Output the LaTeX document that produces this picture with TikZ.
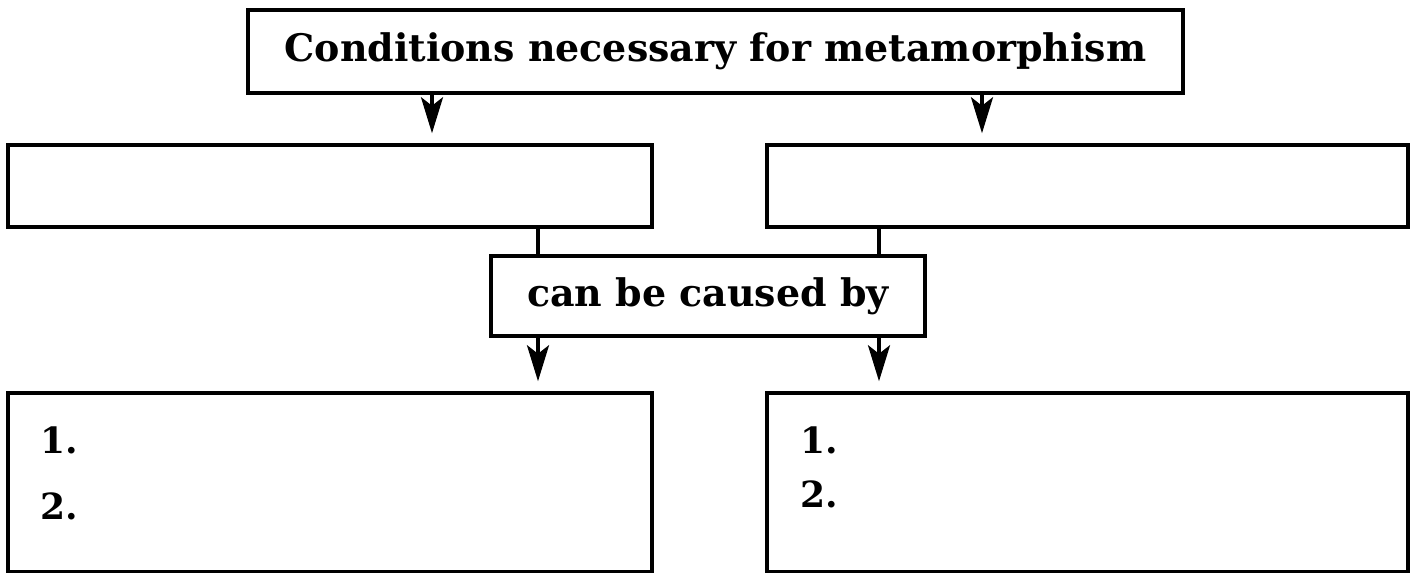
\documentclass[tikz,border=0pt]{standalone}
\usepackage{fontspec}
\setmainfont{DejaVu Serif}
\usetikzlibrary{arrows.meta}

\begin{document}
\begin{tikzpicture}[x=0.02cm,y=-0.02cm,line width=2pt,
  >={Stealth[length=0.72cm,width=0.44cm,inset=0.17cm]},
  box/.style={draw,rectangle,inner sep=0pt},
  label text/.style={font=\bfseries\fontsize{21.6}{24}\selectfont},
  num/.style={anchor=base west,inner sep=0pt,font=\bfseries\fontsize{20.5}{22}\selectfont}]

  \useasboundingbox (0,0) rectangle (1416,573);

  \node[box,minimum width=935*0.02cm,minimum height=83*0.02cm,label text] (top) at (715.5,51.5)
    {Conditions necessary for metamorphism};
  \node[box,minimum width=644*0.02cm,minimum height=82*0.02cm] (midL) at (330,186) {};
  \node[box,minimum width=641*0.02cm,minimum height=82*0.02cm] (midR) at (1087.5,186) {};
  \node[box,minimum width=434*0.02cm,minimum height=80*0.02cm,label text] (cause) at (708,296)
    {can be caused by};
  \node[box,minimum width=644*0.02cm,minimum height=179*0.02cm] (botL) at (330,482.5) {};
  \node[box,minimum width=641*0.02cm,minimum height=179*0.02cm] (botR) at (1087.5,482.5) {};

  % list numbers inside the lower boxes
  \node[num] (l1) at (39,454) {1.};
  \node[num] (l2) at (39,520) {2.};
  \node[num] (r1) at (799,454) {1.};
  \node[num] (r2) at (799,508) {2.};

  \coordinate (xa) at (432,0);
  \coordinate (xb) at (982,0);
  \coordinate (xc) at (538,0);
  \coordinate (xd) at (879,0);

  \draw[->,shorten >=10*0.02cm] (top.south -| xa) -- (midL.north -| xa);
  \draw[->,shorten >=10*0.02cm] (top.south -| xb) -- (midR.north -| xb);
  \draw (midL.south -| xc) -- (cause.north -| xc);
  \draw (midR.south -| xd) -- (cause.north -| xd);
  \draw[->,shorten >=10*0.02cm] (cause.south -| xc) -- (botL.north -| xc);
  \draw[->,shorten >=10*0.02cm] (cause.south -| xd) -- (botR.north -| xd);

\end{tikzpicture}
\end{document}
